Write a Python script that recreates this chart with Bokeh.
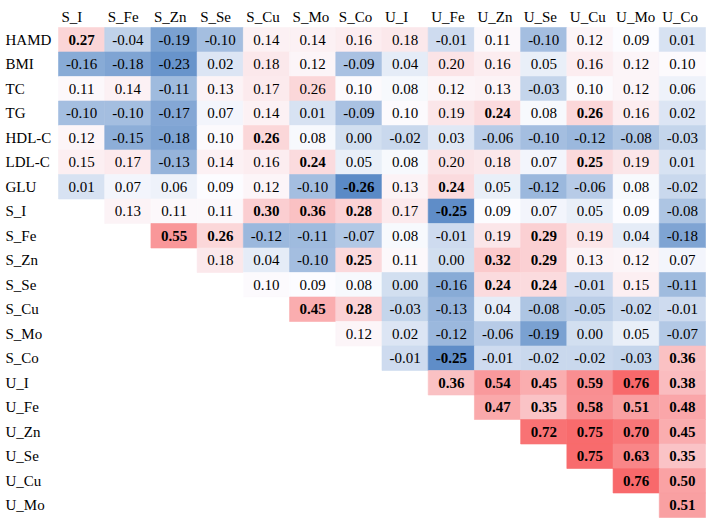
import numpy as np
from bokeh.plotting import figure
from bokeh.models import ColumnDataSource, Range1d
from bokeh.core.properties import value
from bokeh.embed import file_html
from bokeh.resources import INLINE

columns = ["S_I", "S_Fe", "S_Zn", "S_Se", "S_Cu", "S_Mo", "S_Co",
           "U_I", "U_Fe", "U_Zn", "U_Se", "U_Cu", "U_Mo", "U_Co"]
rows = ["HAMD", "BMI", "TC", "TG", "HDL-C", "LDL-C", "GLU",
        "S_I", "S_Fe", "S_Zn", "S_Se", "S_Cu", "S_Mo", "S_Co",
        "U_I", "U_Fe", "U_Zn", "U_Se", "U_Cu", "U_Mo"]

N = None
r_hamd = [0.27, -0.04, -0.19, -0.10, 0.14, 0.14, 0.16, 0.18, -0.01, 0.11, -0.10, 0.12, 0.09, 0.01]
r_bmi = [-0.16, -0.18, -0.23, 0.02, 0.18, 0.12, -0.09, 0.04, 0.20, 0.16, 0.05, 0.16, 0.12, 0.10]
r_tc = [0.11, 0.14, -0.11, 0.13, 0.17, 0.26, 0.10, 0.08, 0.12, 0.13, -0.03, 0.10, 0.12, 0.06]
r_tg = [-0.10, -0.10, -0.17, 0.07, 0.14, 0.01, -0.09, 0.10, 0.19, 0.24, 0.08, 0.26, 0.16, 0.02]
r_hdl = [0.12, -0.15, -0.18, 0.10, 0.26, 0.08, 0.00, -0.02, 0.03, -0.06, -0.10, -0.12, -0.08, -0.03]
r_ldl = [0.15, 0.17, -0.13, 0.14, 0.16, 0.24, 0.05, 0.08, 0.20, 0.18, 0.07, 0.25, 0.19, 0.01]
r_glu = [0.01, 0.07, 0.06, 0.09, 0.12, -0.10, -0.26, 0.13, 0.24, 0.05, -0.12, -0.06, 0.08, -0.02]
r_si = [N, 0.13, 0.11, 0.11, 0.30, 0.36, 0.28, 0.17, -0.25, 0.09, 0.07, 0.05, 0.09, -0.08]
r_sfe = [N, N, 0.55, 0.26, -0.12, -0.11, -0.07, 0.08, -0.01, 0.19, 0.29, 0.19, 0.04, -0.18]
r_szn = [N, N, N, 0.18, 0.04, -0.10, 0.25, 0.11, 0.00, 0.32, 0.29, 0.13, 0.12, 0.07]
r_sse = [N, N, N, N, 0.10, 0.09, 0.08, 0.00, -0.16, 0.24, 0.24, -0.01, 0.15, -0.11]
r_scu = [N, N, N, N, N, 0.45, 0.28, -0.03, -0.13, 0.04, -0.08, -0.05, -0.02, -0.01]
r_smo = [N, N, N, N, N, N, 0.12, 0.02, -0.12, -0.06, -0.19, 0.00, 0.05, -0.07]
r_sco = [N, N, N, N, N, N, N, -0.01, -0.25, -0.01, -0.02, -0.02, -0.03, 0.36]
r_ui = [N, N, N, N, N, N, N, N, 0.36, 0.54, 0.45, 0.59, 0.76, 0.38]
r_ufe = [N, N, N, N, N, N, N, N, N, 0.47, 0.35, 0.58, 0.51, 0.48]
r_uzn = [N, N, N, N, N, N, N, N, N, N, 0.72, 0.75, 0.70, 0.45]
r_use = [N, N, N, N, N, N, N, N, N, N, N, 0.75, 0.63, 0.35]
r_ucu = [N, N, N, N, N, N, N, N, N, N, N, N, 0.76, 0.50]
r_umo = [N, N, N, N, N, N, N, N, N, N, N, N, N, 0.51]

matrix = [r_hamd, r_bmi, r_tc, r_tg, r_hdl, r_ldl, r_glu, r_si, r_sfe, r_szn,
          r_sse, r_scu, r_smo, r_sco, r_ui, r_ufe, r_uzn, r_use, r_ucu, r_umo]

# significant (bold) cells: row -> list of columns
significant = {
    "HAMD": ["S_I"],
    "TG": ["U_Zn", "U_Cu"],
    "HDL-C": ["S_Cu"],
    "LDL-C": ["S_Mo", "U_Cu"],
    "GLU": ["S_Co", "U_Fe"],
    "S_I": ["S_Cu", "S_Mo", "S_Co", "U_Fe"],
    "S_Fe": ["S_Zn", "S_Se", "U_Se"],
    "S_Zn": ["S_Co", "U_Zn", "U_Se"],
    "S_Se": ["U_Zn", "U_Se"],
    "S_Cu": ["S_Mo", "S_Co"],
    "S_Co": ["U_Fe", "U_Co"],
    "U_I": ["U_Fe", "U_Zn", "U_Se", "U_Cu", "U_Mo", "U_Co"],
    "U_Fe": ["U_Zn", "U_Se", "U_Cu", "U_Mo", "U_Co"],
    "U_Zn": ["U_Se", "U_Cu", "U_Mo", "U_Co"],
    "U_Se": ["U_Cu", "U_Mo", "U_Co"],
    "U_Cu": ["U_Mo", "U_Co"],
    "U_Mo": ["U_Co"],
}

# Excel-style 3-colour scale: min -> blue, median -> white, max -> red
c_low = np.array([90, 138, 198])
c_mid = np.array([252, 252, 255])
c_high = np.array([248, 105, 107])

vals = [v for row in matrix for v in row if v is not None]
vmin, vmax, vmed = min(vals), max(vals), float(np.median(vals))


def colour(v):
    if v <= vmed:
        t = (vmed - v) / (vmed - vmin)
        c = c_mid + t * (c_low - c_mid)
    else:
        t = (v - vmed) / (vmax - vmed)
        c = c_mid + t * (c_high - c_mid)
    c = np.round(c).astype(int)
    return "#%02x%02x%02x" % tuple(c)


xs, ys, cols, labels, weights = [], [], [], [], []
for i, rname in enumerate(rows):
    for j, cname in enumerate(columns):
        v = matrix[i][j]
        if v is None:
            continue
        xs.append(j)
        ys.append(i)
        cols.append(colour(v))
        labels.append("%.2f" % v)
        weights.append("bold" if cname in significant.get(rname, []) else "normal")

src = ColumnDataSource(dict(x=xs, y=ys, c=cols, t=labels, w=weights))

W, H = 708, 520
left, top = 58, 27
cw = 647 / len(columns)
rh = 490 / len(rows)
x_start = -0.5 - left / cw
x_end = x_start + W / cw
y_end = -0.5 - top / rh          # top of figure
y_start = y_end + H / rh         # bottom of figure

p = figure(width=W, height=H, output_backend="svg", toolbar_location=None,
           x_range=Range1d(x_start, x_end), y_range=Range1d(y_start, y_end),
           min_border=0, outline_line_color=None)
p.axis.visible = False
p.grid.visible = False
p.background_fill_color = "white"
p.border_fill_color = "white"

p.rect(x="x", y="y", width=1, height=1, source=src, fill_color="c",
       line_color="c", line_width=0.6)

FONT = value("Liberation Serif")
p.text(x="x", y="y", text="t", source=src, text_font=FONT, text_font_size="15px",
       text_font_style="w", text_align="center", text_baseline="middle",
       text_color="black")

hdr = ColumnDataSource(dict(x=[j - 0.5 for j in range(len(columns))],
                            y=[y_end + 16 / rh] * len(columns), t=columns))
p.text(x="x", y="y", text="t", source=hdr, text_font=FONT, text_font_size="15px",
       text_align="left", text_baseline="middle", x_offset=3, text_color="black")

rl = ColumnDataSource(dict(x=[x_start] * len(rows), y=list(range(len(rows))), t=rows))
p.text(x="x", y="y", text="t", source=rl, text_font=FONT, text_font_size="15px",
       text_align="left", text_baseline="middle", x_offset=5, text_color="black")

open("out.html", "w").write(file_html(p, INLINE))
